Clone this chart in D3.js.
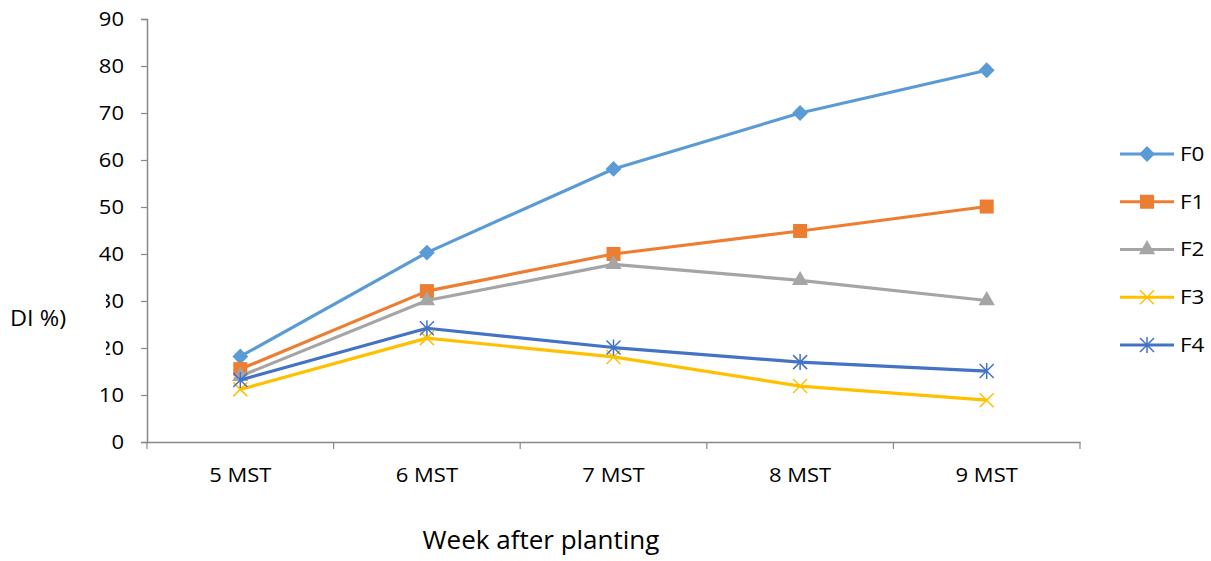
<!DOCTYPE html>
<html><head><meta charset="utf-8">
<script src="https://cdn.jsdelivr.net/npm/d3@7"></script>
<style>
body{margin:0;background:#fff;}
svg{display:block;font-family:"Open Sans",sans-serif;}
svg text{transform-box:fill-box;}
.sx-end{transform:scaleX(1.1);transform-origin:100% 50%;}
.sx-mid{transform:scaleX(1.1);transform-origin:50% 50%;}
.sx-start{transform:scaleX(1.12);transform-origin:0% 50%;}
</style>
</head><body><svg id="c" width="1211" height="561"></svg>
<script>
const categories = ["5 MST","6 MST","7 MST","8 MST","9 MST"];
const seriesNames = ["F0","F1","F2","F3","F4"];
const F0 = [18.2, 40.3, 58.1, 70.0, 79.1];
const F1 = [15.5, 32.1, 40.0, 44.9, 50.1];
const F2 = [14.0, 30.1, 37.8, 34.4, 30.1];
const F3 = [11.2, 22.1, 18.1, 11.9, 8.9];
const F4 = [13.2, 24.2, 20.1, 17.0, 15.1];
const yTicks = [0,10,20,30,40,50,60,70,80,90];
const colors = ["#5B9BD5","#ED7D31","#A5A5A5","#FFC000","#4472C4"];
const markers = ["diamond","square","triangle","x","star"];
const seriesValues = [F0,F1,F2,F3,F4];

const svg = d3.select("#c");
const x = d3.scaleBand().domain(categories).range([147,1080]);
const y = d3.scaleLinear().domain([0,90]).range([442,19]);
const axisColor = "#898989";

const gy = svg.append("g").attr("transform","translate(147,0)")
  .call(d3.axisLeft(y).tickValues(yTicks).tickSize(6).tickPadding(17));
const gx = svg.append("g").attr("transform","translate(0,442)")
  .call(d3.axisBottom(x).tickSize(0).tickPadding(26));
[gy,gx].forEach(g=>{
  g.select(".domain").attr("stroke",axisColor).attr("stroke-width",1.5);
  g.selectAll(".tick line").attr("stroke",axisColor).attr("stroke-width",1.2);
  g.selectAll("text").attr("fill","#000").style("font-size","20px").style("font-family","'Open Sans',sans-serif");
});
gy.selectAll("text").attr("class","sx-end");
gx.selectAll("text").attr("class","sx-mid");

const bounds = categories.map(c=>x(c)).concat([x.range()[1]]);
svg.append("g").selectAll("line").data(bounds).join("line")
  .attr("x1",d=>d).attr("x2",d=>d).attr("y1",442).attr("y2",449)
  .attr("stroke",axisColor).attr("stroke-width",1.2);

svg.append("rect").attr("x",0).attr("y",284).attr("width",106).attr("height",76).attr("fill","#fff");
svg.append("text").attr("x",10).attr("y",326).attr("class","sx-start").text("DI %)").style("font-size","21px");

svg.append("text").attr("x",541).attr("y",549).attr("text-anchor","middle")
  .text("Week after planting").style("font-size","26px");

const cx = c => x(c) + x.bandwidth()/2;
function drawMarker(g, type, color, px, py){
  if(type==="diamond"){
    g.append("path").attr("d",d3.symbol(d3.symbolDiamond2,160)()).attr("transform",`translate(${px},${py})`).attr("fill",color);
  } else if(type==="square"){
    g.append("rect").attr("x",px-7).attr("y",py-7).attr("width",14).attr("height",14).attr("fill",color);
  } else if(type==="triangle"){
    g.append("path").attr("d",d3.symbol(d3.symbolTriangle,115)()).attr("transform",`translate(${px},${py})`).attr("fill",color);
  } else if(type==="x"){
    const s=7;
    g.append("path").attr("d",`M${px-s},${py-s}L${px+s},${py+s}M${px-s},${py+s}L${px+s},${py-s}`).attr("stroke",color).attr("stroke-width",1.5).attr("fill","none");
  } else if(type==="star"){
    const s=7;
    g.append("path").attr("d",`M${px-s},${py-s}L${px+s},${py+s}M${px-s},${py+s}L${px+s},${py-s}M${px},${py-s-1}L${px},${py+s+1}`).attr("stroke",color).attr("stroke-width",1.5).attr("fill","none");
  }
}

const line = d3.line().x((d,i)=>cx(categories[i])).y(d=>y(d));
[0,1,2,3,4].forEach(si=>{
  const g = svg.append("g");
  g.append("path").datum(seriesValues[si]).attr("d",line).attr("fill","none")
    .attr("stroke",colors[si]).attr("stroke-width",3.2).attr("stroke-linejoin","round");
  seriesValues[si].forEach((v,i)=>drawMarker(g,markers[si],colors[si],cx(categories[i]),y(v)));
});

const legY = d3.scalePoint().domain(seriesNames).range([154,345]);
seriesNames.forEach((n,i)=>{
  const g = svg.append("g");
  const yy = legY(n);
  g.append("line").attr("x1",1120).attr("x2",1174).attr("y1",yy).attr("y2",yy).attr("stroke",colors[i]).attr("stroke-width",3.2);
  drawMarker(g,markers[i],colors[i],1147,yy);
  g.append("text").attr("x",1180).attr("y",yy+7).attr("class","sx-start").text(n).style("font-size","20px");
});
</script></body></html>
